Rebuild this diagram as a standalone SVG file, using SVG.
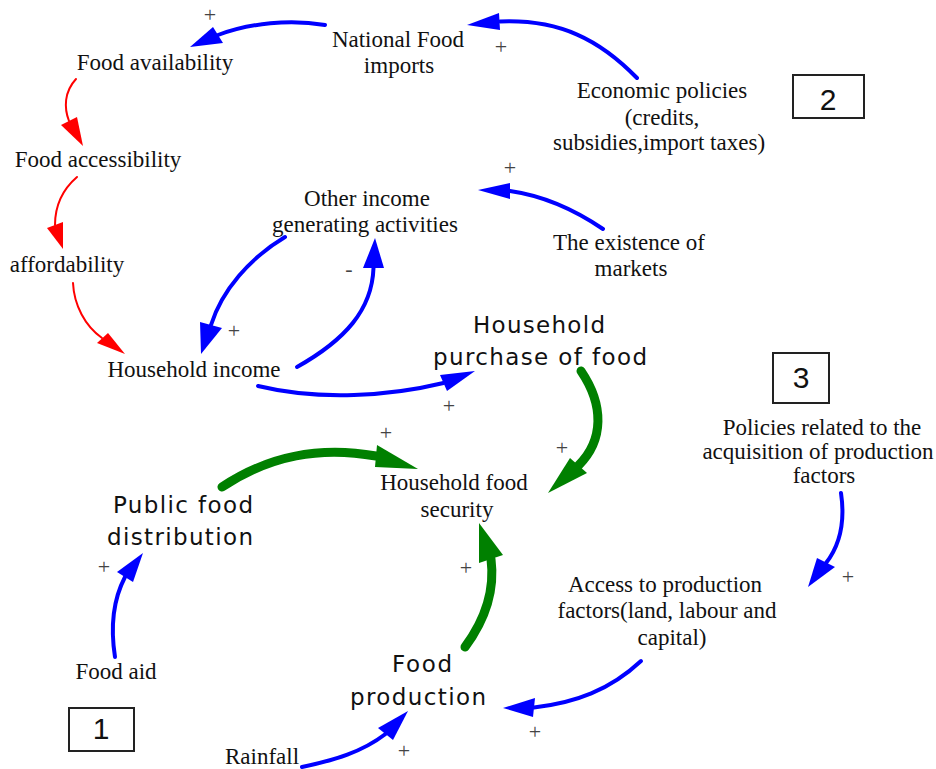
<svg xmlns="http://www.w3.org/2000/svg" width="936" height="769" viewBox="0 0 936 769">
<style>
.t{font-family:"Liberation Serif","Times New Roman",serif;font-size:23px;fill:#111;text-anchor:middle}
.s{font-family:"DejaVu Sans","Liberation Sans",sans-serif;font-size:23px;fill:#111;text-anchor:middle}
.p{font-family:"Liberation Serif","Times New Roman",serif;font-size:22px;fill:#444;text-anchor:middle}
.n{font-family:"Liberation Sans",Arial,sans-serif;font-size:30px;fill:#111;text-anchor:middle}
.box{fill:#fff;stroke:#222;stroke-width:2}
.r{fill:none;stroke:#ff0000;stroke-width:2;stroke-linecap:round}
.b{fill:none;stroke:#0000ff;stroke-width:4;stroke-linecap:round}
.g{fill:none;stroke:#008000;stroke-width:9;stroke-linecap:round}
.rh{fill:#ff0000}
.bh{fill:#0000ff}
.gh{fill:#008000}
</style>
<rect width="936" height="769" fill="#fff"/>
<g id="connectors">
<path class="r" d="M76,79 C64,92 64,108 69,121"/><polygon class="rh" points="83,146 61,125 77,117"/>
<path class="r" d="M77,177 C62,190 55,207 55,225"/><polygon class="rh" points="63,249 47,228 63,222"/>
<path class="r" d="M73,283 C74,305 85,326 102,338"/><polygon class="rh" points="125,354 97,343 108,333"/>
<path class="b" d="M325,25 C290,19 250,23 218,35"/><polygon class="bh" points="190,47 213,27 223,43"/>
<path class="b" d="M637,78 C600,40 560,19 500,21.5"/><polygon class="bh" points="467,25 499,13 500,30"/>
<path class="b" d="M603,229 C575,210 545,196 510,191"/><polygon class="bh" points="478,190 510,183 510,199"/>
<path class="b" d="M285,237 C250,258 222,290 211,325"/><polygon class="bh" points="201,354 200,322 222,328"/>
<path class="b" d="M297,367 C345,340 372,310 373.5,268"/><polygon class="bh" points="375,238 363,268 384,268"/>
<path class="b" d="M258,386 C320,401 390,396 443.5,383"/><polygon class="bh" points="475,371 440,375 447,391"/>
<path class="g" d="M581,371 C604,405 604,440 578.5,465.5"/><polygon class="gh" points="548,493 570,458 587,473"/>
<path class="g" d="M222,487 C270,455 320,446 376,456"/><polygon class="gh" points="418,469 377,445 375,467"/>
<path class="g" d="M465,647 C485,620 495,590 491,559"/><polygon class="gh" points="479,523 479,563 503,555"/>
<path class="b" d="M115,657 C110,625 113,600 125,577"/><polygon class="bh" points="143,553 117,572 133,582"/>
<path class="b" d="M841,493 C845,520 840,545 826,563"/><polygon class="bh" points="808,587 817,558 835,567"/>
<path class="b" d="M641,661 C610,690 575,703 534,707.5"/><polygon class="bh" points="503,708 535,698 533,717"/>
<path class="b" d="M302,767 C335,760 362,752 385.5,734"/><polygon class="bh" points="408,711 378,728 393,740"/>
</g>
<g id="polarity">
<text class="p" x="210" y="22">+</text>
<text class="p" x="501" y="54">+</text>
<text class="p" x="510" y="175">+</text>
<text class="p" x="349" y="276">-</text>
<text class="p" x="234" y="338">+</text>
<text class="p" x="449" y="413">+</text>
<text class="p" x="386" y="440">+</text>
<text class="p" x="562" y="455">+</text>
<text class="p" x="104" y="574">+</text>
<text class="p" x="466" y="575">+</text>
<text class="p" x="848" y="584">+</text>
<text class="p" x="535" y="739">+</text>
<text class="p" x="404" y="758">+</text>
</g>
<g id="food-availability"><text class="t" x="155" y="70">Food availability</text></g>
<g id="national-food-imports"><text class="t" x="398" y="47">National Food</text><text class="t" x="399" y="73">imports</text></g>
<g id="food-accessibility"><text class="t" x="98" y="167">Food accessibility</text></g>
<g id="affordability"><text class="t" x="67" y="272">affordability</text></g>
<g id="other-income"><text class="t" x="367" y="206">Other income</text><text class="t" x="365" y="232">generating activities</text></g>
<g id="economic-policies"><text class="t" x="662" y="98">Economic policies</text><text class="t" x="662" y="125">(credits,</text><text class="t" x="659" y="150">subsidies,import taxes)</text></g>
<g id="box2"><rect class="box" x="793" y="75" width="71" height="43"/><text class="n" x="828" y="110">2</text></g>
<g id="existence-of-markets"><text class="t" x="629" y="250">The existence of</text><text class="t" x="631" y="276">markets</text></g>
<g id="household-income"><text class="t" x="194" y="377">Household income</text></g>
<g id="household-purchase"><text class="s" x="539" y="333" textLength="132">Household</text><text class="s" x="540" y="365" textLength="214">purchase of food</text></g>
<g id="box3"><rect class="box" x="773" y="353" width="56" height="50"/><text class="n" x="801" y="388">3</text></g>
<g id="household-food-security"><text class="t" x="454" y="490">Household food</text><text class="t" x="457" y="517">security</text></g>
<g id="policies-production-factors"><text class="t" x="822" y="435">Policies related to the</text><text class="t" x="818" y="459">acquisition of production</text><text class="t" x="824" y="483">factors</text></g>
<g id="public-food-distribution"><text class="s" x="183" y="513" textLength="140">Public food</text><text class="s" x="180" y="545" textLength="146">distribution</text></g>
<g id="access-production-factors"><text class="t" x="665" y="592">Access to production</text><text class="t" x="667" y="618">factors(land, labour and</text><text class="t" x="672" y="645">capital)</text></g>
<g id="food-aid"><text class="t" x="116" y="679">Food aid</text></g>
<g id="box1"><rect class="box" x="69" y="708" width="65" height="43"/><text class="n" x="101" y="739">1</text></g>
<g id="food-production"><text class="s" x="422" y="672" textLength="60">Food</text><text class="s" x="418" y="705" textLength="136">production</text></g>
<g id="rainfall"><text class="t" x="262" y="764">Rainfall</text></g>
</svg>
